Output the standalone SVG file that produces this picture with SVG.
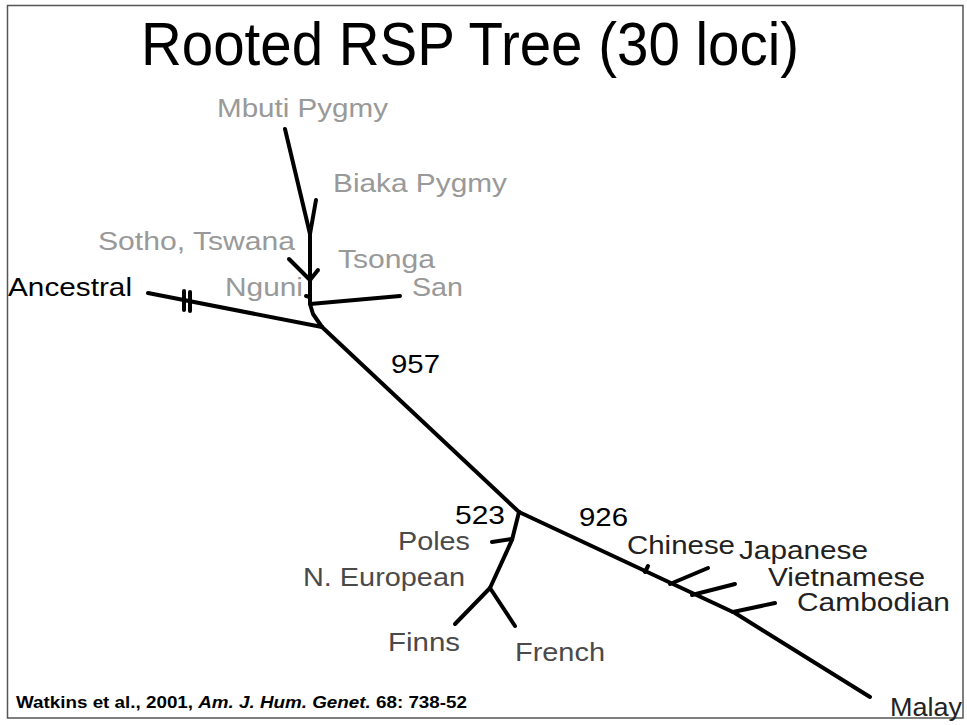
<svg xmlns="http://www.w3.org/2000/svg" width="967" height="725" viewBox="0 0 967 725">
  <style>
    .br { fill: none; stroke: #000; stroke-width: 4; stroke-linecap: round; stroke-linejoin: round; }
    .lbl { font-family: "Liberation Sans", Arial, sans-serif; font-size: 25px; }
    .af { fill: #999; }
    .eu { fill: #4a4a4a; }
    .as { fill: #222; }
    .bk { fill: #000; }
  </style>
  <rect x="0" y="0" width="967" height="725" fill="#fff"/>
  <rect x="7.5" y="5.5" width="955.5" height="712.5" fill="none" stroke="#555" stroke-width="1.5"/>

  <text x="470" y="65" text-anchor="middle" font-family="'Liberation Sans', Arial, sans-serif" font-size="62" fill="#000" textLength="658" lengthAdjust="spacingAndGlyphs">Rooted RSP Tree (30 loci)</text>

  <!-- tree branches -->
  <g id="connectors">
    <polyline class="br" points="285,129 310,234 310,304 313,314 322,327"/>
    <line class="br" x1="316" y1="200" x2="310" y2="234"/>
    <line class="br" x1="289" y1="259" x2="310" y2="280"/>
    <line class="br" x1="318" y1="270" x2="310" y2="280"/>
    <line class="br" x1="306" y1="296" x2="310" y2="297"/>
    <line class="br" x1="310" y1="304" x2="400" y2="296"/>
    <line class="br" x1="148" y1="293" x2="322" y2="327"/>
    <line class="br" x1="184" y1="291" x2="184" y2="310"/>
    <line class="br" x1="190" y1="292" x2="190" y2="311"/>
    <line class="br" x1="322" y1="327" x2="519" y2="512"/>
    <polyline class="br" points="519,512 735,613 870,697"/>
    <line class="br" x1="645" y1="572" x2="648" y2="566"/>
    <line class="br" x1="670" y1="584" x2="708" y2="568"/>
    <line class="br" x1="692" y1="595" x2="735" y2="584"/>
    <line class="br" x1="733" y1="612" x2="775" y2="603"/>
    <polyline class="br" points="519,512 512,540 490,588"/>
    <line class="br" x1="492" y1="542" x2="512" y2="539"/>
    <line class="br" x1="490" y1="588" x2="455" y2="624"/>
    <line class="br" x1="490" y1="588" x2="515" y2="626"/>
  </g>

  <g id="mbuti"><text class="lbl af" x="217" y="117" textLength="171" lengthAdjust="spacingAndGlyphs">Mbuti Pygmy</text></g>
  <g id="biaka"><text class="lbl af" x="333" y="192" textLength="174" lengthAdjust="spacingAndGlyphs">Biaka Pygmy</text></g>
  <g id="sotho"><text class="lbl af" x="98" y="250" textLength="197" lengthAdjust="spacingAndGlyphs">Sotho, Tswana</text></g>
  <g id="tsonga"><text class="lbl af" x="338" y="268" textLength="97" lengthAdjust="spacingAndGlyphs">Tsonga</text></g>
  <g id="nguni"><text class="lbl af" x="225" y="296" textLength="78" lengthAdjust="spacingAndGlyphs">Nguni</text></g>
  <g id="san"><text class="lbl af" x="412" y="296" textLength="51" lengthAdjust="spacingAndGlyphs">San</text></g>
  <g id="ancestral"><text class="lbl bk" x="8" y="296" textLength="124" lengthAdjust="spacingAndGlyphs">Ancestral</text></g>

  <g id="support">
    <text class="lbl bk" x="391" y="373" textLength="49" lengthAdjust="spacingAndGlyphs">957</text>
    <text class="lbl bk" x="455" y="524" textLength="50" lengthAdjust="spacingAndGlyphs">523</text>
    <text class="lbl bk" x="579" y="526" textLength="49" lengthAdjust="spacingAndGlyphs">926</text>
  </g>

  <g id="poles"><text class="lbl eu" x="398" y="550" textLength="72" lengthAdjust="spacingAndGlyphs">Poles</text></g>
  <g id="neuropean"><text class="lbl eu" x="303" y="586" textLength="162" lengthAdjust="spacingAndGlyphs">N. European</text></g>
  <g id="finns"><text class="lbl eu" x="388" y="651" textLength="72" lengthAdjust="spacingAndGlyphs">Finns</text></g>
  <g id="french"><text class="lbl eu" x="515" y="661" textLength="90" lengthAdjust="spacingAndGlyphs">French</text></g>

  <g id="chinese"><text class="lbl as" x="627" y="554" textLength="108" lengthAdjust="spacingAndGlyphs">Chinese</text></g>
  <g id="japanese"><text class="lbl as" x="739" y="559" textLength="129" lengthAdjust="spacingAndGlyphs">Japanese</text></g>
  <g id="vietnamese"><text class="lbl as" x="768" y="586" textLength="157" lengthAdjust="spacingAndGlyphs">Vietnamese</text></g>
  <g id="cambodian"><text class="lbl as" x="797" y="611" textLength="153" lengthAdjust="spacingAndGlyphs">Cambodian</text></g>
  <g id="malay"><text class="lbl as" x="890" y="716" textLength="72" lengthAdjust="spacingAndGlyphs">Malay</text></g>

  <text x="16" y="708" font-family="'Liberation Sans', Arial, sans-serif" font-size="17" font-weight="bold" fill="#000" textLength="451" lengthAdjust="spacingAndGlyphs">Watkins et al., 2001, <tspan font-style="italic">Am. J. Hum. Genet.</tspan> 68: 738-52</text>
</svg>
